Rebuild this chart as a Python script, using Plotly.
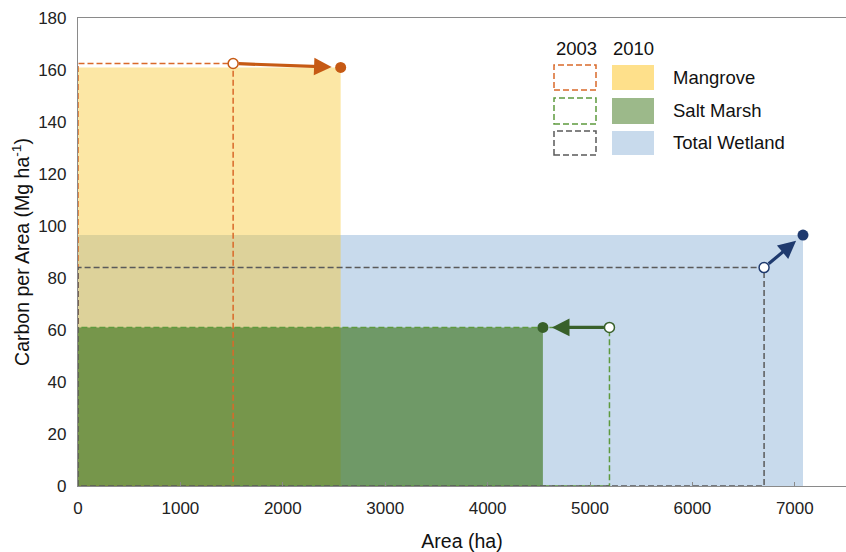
import plotly.graph_objects as go

categories = ["Mangrove", "Salt Marsh", "Total Wetland"]
area_2003 = [1515, 5190, 6700]
carbon_2003 = [162.5, 61.0, 84.0]
area_2010 = [2565, 4540, 7080]
carbon_2010 = [161.0, 61.0, 96.5]
x_ticks = [0, 1000, 2000, 3000, 4000, 5000, 6000, 7000]
y_ticks = [0, 20, 40, 60, 80, 100, 120, 140, 160, 180]

fill_colors = {"Mangrove": "rgba(249,200,47,0.43)",
               "Salt Marsh": "rgba(63,118,32,0.65)",
               "Total Wetland": "rgb(200,218,236)"}
legend_fill = {"Mangrove": "#FEE08B", "Salt Marsh": "#9CB98A", "Total Wetland": "#C8DAEC"}
dash_colors = {"Mangrove": "#D9692A", "Salt Marsh": "#5E9A3E", "Total Wetland": "#5A5A5A"}
arrow_colors = {"Mangrove": "#C65A14", "Salt Marsh": "#38602A", "Total Wetland": "#1F3A6E"}

FONT = "Liberation Sans, Arial, sans-serif"
fig = go.Figure()

shapes = []
for name in ["Total Wetland", "Mangrove", "Salt Marsh"]:
    i = categories.index(name)
    shapes.append(dict(type="rect", xref="x", yref="y", x0=0, y0=0,
                       x1=area_2010[i], y1=carbon_2010[i],
                       fillcolor=fill_colors[name], line=dict(width=0), layer="below"))

for i, name in enumerate(categories):
    fig.add_trace(go.Scatter(
        x=[0, 0, area_2003[i], area_2003[i], 0],
        y=[0, carbon_2003[i], carbon_2003[i], 0, 0],
        mode="lines", line=dict(color=dash_colors[name], width=1.5, dash="6px,3px"),
        hoverinfo="skip", showlegend=False))

annotations = []
for i, name in enumerate(categories):
    annotations.append(dict(
        x=area_2010[i], y=carbon_2010[i], ax=area_2003[i], ay=carbon_2003[i],
        xref="x", yref="y", axref="x", ayref="y", text="", showarrow=True,
        arrowhead=2, arrowsize=1.1, arrowwidth=3.2, arrowcolor=arrow_colors[name],
        standoff=9, startstandoff=4))
    fig.add_trace(go.Scatter(
        x=[area_2003[i]], y=[carbon_2003[i]], mode="markers",
        marker=dict(size=10, color="white", line=dict(color=arrow_colors[name], width=1.5)),
        hoverinfo="skip", showlegend=False, cliponaxis=False))
    fig.add_trace(go.Scatter(
        x=[area_2010[i]], y=[carbon_2010[i]], mode="markers",
        marker=dict(size=11, color=arrow_colors[name]),
        hoverinfo="skip", showlegend=False, cliponaxis=False))

W, H = 846, 552
ml, mr, mt, mb = 78, 0, 18, 66
pw, ph = W - ml - mr, H - mt - mb

def px(xp):
    return (xp - ml) / pw

def py(yp):
    return 1 - (yp - mt) / ph

LF = 18.5
for label, xc in [("2003", 576), ("2010", 633)]:
    annotations.append(dict(x=px(xc), y=py(48), xref="paper", yref="paper", text=label,
                            xanchor="center", yanchor="middle",
                            showarrow=False, font=dict(family=FONT, size=LF, color="#111")))
rows_y = [(65, 90), (98, 124), (131, 155)]
for (y0, y1), name in zip(rows_y, categories):
    shapes.append(dict(type="rect", xref="paper", yref="paper",
                       x0=px(554), x1=px(596), y0=py(y1), y1=py(y0),
                       line=dict(color=dash_colors[name], width=1.5, dash="6px,3px"),
                       fillcolor="rgba(0,0,0,0)"))
    shapes.append(dict(type="rect", xref="paper", yref="paper",
                       x0=px(612), x1=px(654), y0=py(y1), y1=py(y0),
                       line=dict(width=0), fillcolor=legend_fill[name]))
    annotations.append(dict(x=px(671), y=py((y0 + y1) / 2), xref="paper", yref="paper",
                            text=name, showarrow=False, xanchor="left", yanchor="middle",
                            font=dict(family=FONT, size=LF, color="#111")))

fig.update_layout(
    width=W, height=H, margin=dict(l=ml, r=mr, t=mt, b=mb),
    plot_bgcolor="white", paper_bgcolor="white",
    shapes=shapes, annotations=annotations, showlegend=False,
    font=dict(family=FONT, size=17, color="#222"),
    xaxis=dict(range=[0, 7500], tickvals=x_ticks, automargin=False,
               showgrid=False, zeroline=False, showline=True, linecolor="#8a8a8a",
               linewidth=1.2, mirror=True, ticks="inside", ticklen=4, tickcolor="#8a8a8a",
               ticklabelstandoff=6,
               title=dict(text="Area (ha)", font=dict(size=19.5, color="#111"), standoff=17),
               tickfont=dict(size=17, color="#222")),
    yaxis=dict(range=[0, 180], tickvals=y_ticks, automargin=False,
               showgrid=False, zeroline=False, showline=True, linecolor="#8a8a8a",
               linewidth=1.2, ticks="", ticklabelstandoff=7,
               title=dict(text="Carbon per Area (Mg ha<sup>-1</sup>)",
                          font=dict(size=19.5, color="#111"), standoff=3),
               tickfont=dict(size=17, color="#222")),
)

fig.write_html("out.html", config={"displayModeBar": False},
               post_script="document.documentElement.style.margin='0';"
                           "document.body.style.margin='0';"
                           "document.body.style.overflow='hidden';")
